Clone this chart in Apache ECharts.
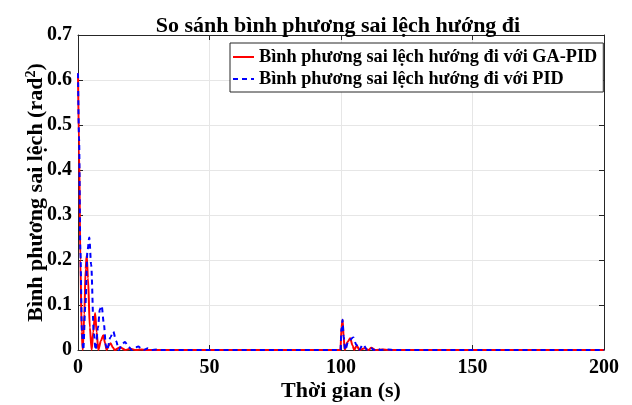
<!DOCTYPE html>
<html><head><meta charset="utf-8">
<script src="https://cdn.jsdelivr.net/npm/echarts@6/dist/echarts.min.js"></script>
<style>html,body{margin:0;padding:0;background:#fff}#c{width:632px;height:405px}</style>
</head><body><div id="c"></div>
<script>
const titleText = 'So sánh bình phương sai lệch hướng đi';
const seriesNames = ['Bình phương sai lệch hướng đi với GA-PID', 'Bình phương sai lệch hướng đi với PID'];
const xTicks = [0, 50, 100, 150, 200];
const yTicks = [0, 0.1, 0.2, 0.3, 0.4, 0.5, 0.6, 0.7];
// [time (s), squared error (rad^2)]
const gaPid = [[0,0.615],[0.4,0.45],[0.9,0.2],[1.4,0.04],[1.8,0],[2.4,0.08],[2.9,0.18],[3.3,0.21],[3.8,0.16],[4.5,0.05],[5.2,0],[5.8,0.04],[6.5,0.082],[7.1,0.04],[7.7,0],[8.7,0.02],[9.6,0.033],[10.3,0.015],[10.9,0],[11.7,0.01],[12.4,0.015],[13.2,0.006],[14,0],[16,0.006],[18,0],[19.8,0.003],[22,0],[24,0.001],[26,0],[99.8,0],[100.2,0.05],[100.6,0.067],[101,0.03],[101.4,0],[102.5,0.018],[103.5,0.026],[104.4,0.01],[105,0],[106,0.01],[107,0],[109,0.004],[110.5,0],[111.5,0.005],[113,0],[116,0.001],[118,0],[200,0]];
const pid = [[0,0.615],[0.4,0.47],[0.9,0.22],[1.5,0.04],[2.0,0],[2.8,0.1],[3.6,0.22],[4.3,0.25],[5.0,0.19],[6.0,0.04],[6.7,0],[7.6,0.05],[8.3,0.09],[9.0,0.098],[9.8,0.06],[10.6,0.01],[11.1,0],[12.3,0.028],[13.4,0.041],[14.5,0.02],[15.5,0],[16.8,0.013],[17.9,0.018],[19,0.008],[20.5,0],[22,0.006],[22.9,0.008],[24,0.003],[25,0],[26.6,0.004],[28,0],[30,0.001],[32,0],[99.8,0],[100.2,0.05],[100.6,0.067],[101,0.03],[101.6,0],[102.8,0.02],[104.7,0.028],[105.8,0.012],[106.8,0],[108.4,0.012],[110,0],[111.5,0.004],[112.5,0],[113.6,0.004],[115,0],[118,0.001],[120,0],[200,0]];

const F = '"Liberation Serif", "Times New Roman", serif';
const chart = echarts.init(document.getElementById('c'), null, {renderer:'canvas'});
const axisCommon = {
  axisLine:{show:true, onZero:false, lineStyle:{color:'#262626', width:1}},
  axisTick:{show:true, inside:true, length:5, lineStyle:{color:'#262626'}},
};
chart.setOption({
  animation:false,
  backgroundColor:'#fff',
  title:{text:titleText, left:333, textAlign:'center', top:10, textStyle:{fontFamily:F, fontWeight:'bold', fontSize:22, color:'#000'}},
  legend:{
    orient:'vertical', left:230, top:43, padding:[4,6,3,2], itemGap:2,
    itemWidth:21, itemHeight:14,
    itemStyle:{opacity:0},
    backgroundColor:'#fff', borderColor:'#262626', borderWidth:1, borderRadius:0,
    textStyle:{fontFamily:F, fontWeight:'bold', fontSize:18.3, lineHeight:20, color:'#000'},
    data:seriesNames
  },
  grid:{left:78, right:28, top:35, bottom:55, outerBoundsMode:'none', containLabel:false},
  xAxis:[
    Object.assign({type:'value', min:0, max:200, interval:50,
      name:'Thời gian (s)', nameLocation:'middle', nameGap:30, nameMoveOverlap:false,
      nameTextStyle:{fontFamily:F, fontWeight:'bold', fontSize:22, color:'#000'},
      axisLabel:{fontFamily:F, fontWeight:'bold', fontSize:20, color:'#000', margin:8, customValues:xTicks},
      splitLine:{show:true, lineStyle:{color:'#e6e6e6'}}}, axisCommon),
    Object.assign({type:'value', position:'top', min:0, max:200, interval:50, axisLabel:{show:false}, splitLine:{show:false}}, axisCommon)
  ],
  yAxis:[
    Object.assign({type:'value', min:0, max:0.7, interval:0.1,
      name:'{a|Bình phương sai lệch (rad}{s|2}{a|)}', nameLocation:'middle', nameGap:30, nameRotate:90, nameMoveOverlap:false,
      nameTextStyle:{rich:{a:{fontFamily:F, fontWeight:'bold', fontSize:22, color:'#000'}, s:{fontFamily:F, fontWeight:'bold', fontSize:14, color:'#000', verticalAlign:'top', padding:[0,0,10,0]}}},
      axisLabel:{fontFamily:F, fontWeight:'bold', fontSize:20, color:'#000', margin:6, formatter:v=>String(Math.round(v*10)/10)},
      splitLine:{show:true, lineStyle:{color:'#e6e6e6'}}}, axisCommon),
    Object.assign({type:'value', position:'right', min:0, max:0.7, interval:0.1, axisLabel:{show:false}, splitLine:{show:false}}, axisCommon)
  ],
  series:[
    {name:seriesNames[0], type:'line', data:gaPid, symbol:'none', smooth:0.3, smoothMonotone:'x', z:3,
      lineStyle:{color:'#ff0000', width:2}, itemStyle:{color:'#ff0000'}},
    {name:seriesNames[1], type:'line', data:pid, symbol:'none', smooth:0.3, smoothMonotone:'x', z:4,
      lineStyle:{color:'#0000ff', width:2, type:[5,4]}, itemStyle:{color:'#0000ff'}}
  ]
});
</script></body></html>
